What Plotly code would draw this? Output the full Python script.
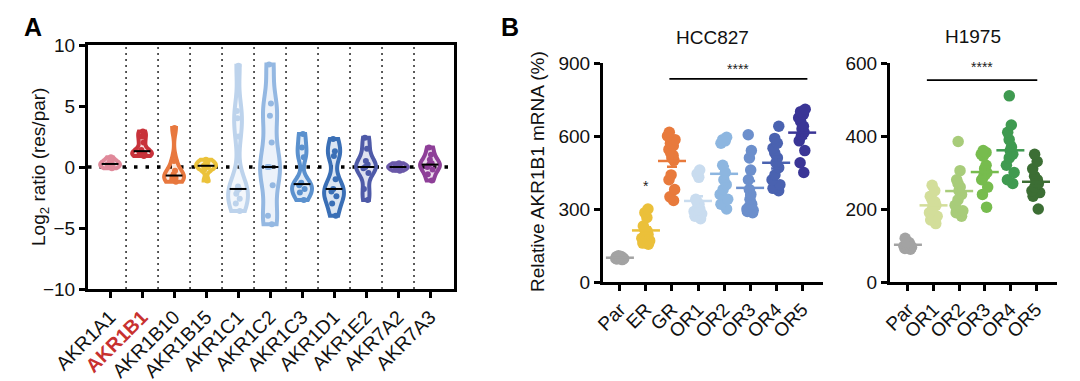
import numpy as np
import plotly.graph_objects as go

FONT = "Arial, Liberation Sans, Helvetica, sans-serif"

# ---------------- Panel A data (log2 ratio res/par) ----------------
genes = ["AKR1A1", "AKR1B1", "AKR1B10", "AKR1B15", "AKR1C1", "AKR1C2",
         "AKR1C3", "AKR1D1", "AKR1E2", "AKR7A2", "AKR7A3"]
akr1a1 = [-0.1, 0.0, 0.2, 0.3, 0.5, 0.8, 0.4, 0.1]
akr1b1 = [0.9, 1.0, 1.1, 1.2, 1.4, 2.0, 2.5, 2.9]
akr1b10 = [-1.2, -1.0, -0.9, -0.8, -0.6, -0.3, 0.5, 3.2]
akr1b15 = [-1.1, -0.2, 0.0, 0.1, 0.2, 0.4, 0.6]
akr1c1 = [-3.6, -3.0, -2.6, -2.2, -1.9, -1.8, -1.6, 2.5, 4.0, 4.6, 8.3]
akr1c2 = [-4.7, -4.0, -1.5, 0.0, 0.0, 2.0, 4.2, 5.2, 8.4]
akr1c3 = [-2.7, -2.1, -1.8, -1.5, -1.3, 0.8, 1.6, 2.7]
akr1d1 = [-4.0, -3.0, -2.4, -2.0, -1.8, -1.0, 0.9, 1.3, 2.3]
akr1e2 = [-2.7, -1.8, -0.5, -0.1, 0.0, 0.2, 0.5, 1.5, 2.4]
akr7a2 = [-0.3, -0.2, -0.1, 0.0, 0.0, 0.1, 0.2, 0.3]
akr7a3 = [-1.1, -0.6, -0.2, 0.0, 0.2, 0.3, 0.6, 1.0, 1.6]
violin_values = [akr1a1, akr1b1, akr1b10, akr1b15, akr1c1, akr1c2,
                 akr1c3, akr1d1, akr1e2, akr7a2, akr7a3]
violin_colors = ["#E0899A", "#C8323A", "#E8783E", "#EBC23A", "#BDD3EC", "#94B8E2",
                 "#5B91CE", "#3A6FB6", "#4E5AA8", "#6A58A8", "#8E3F98"]
a_yticks = [-10, -5, 0, 5, 10]

# ---------------- Panel B data (relative AKR1B1 mRNA, %) ----------------
hcc_groups = ["Par", "ER", "GR", "OR1", "OR2", "OR3", "OR4", "OR5"]
hcc_par = [95, 100, 105, 98, 102, 92, 108, 97, 100, 104, 96, 101]
hcc_er = [300, 285, 265, 230, 215, 210, 200, 195, 190, 180, 170, 160, 155]
hcc_gr = [615, 600, 585, 570, 560, 545, 530, 520, 510, 500, 440, 420, 380, 350, 335]
hcc_or1 = [460, 445, 430, 340, 330, 320, 310, 300, 295, 290, 280, 270, 260]
hcc_or2 = [595, 585, 580, 570, 480, 450, 420, 400, 380, 360, 340, 320, 300]
hcc_or3 = [605, 540, 510, 460, 420, 380, 360, 340, 320, 310, 300, 295, 290, 285]
hcc_or4 = [640, 590, 570, 550, 530, 510, 490, 470, 440, 420, 400, 385, 375]
hcc_or5 = [710, 700, 690, 675, 660, 640, 630, 615, 600, 580, 540, 490, 450]
hcc_values = [hcc_par, hcc_er, hcc_gr, hcc_or1, hcc_or2, hcc_or3, hcc_or4, hcc_or5]
hcc_colors = ["#A3A3A3", "#EBC03A", "#E87A3C", "#C9DCEF", "#8DB6E0", "#6C8FCC",
              "#4A62B0", "#3A3596"]
hcc_yticks = [0, 300, 600, 900]

h1975_groups = ["Par", "OR1", "OR2", "OR3", "OR4", "OR5"]
h_par = [120, 110, 105, 100, 98, 95, 92, 90, 102, 108]
h_or1 = [265, 250, 235, 225, 220, 215, 210, 200, 190, 180, 170, 160]
h_or2 = [385, 305, 280, 270, 260, 250, 240, 225, 210, 195, 190, 180]
h_or3 = [360, 355, 350, 345, 320, 310, 300, 290, 280, 260, 240, 205]
h_or4 = [510, 430, 410, 390, 370, 360, 350, 340, 320, 300, 280, 270]
h_or5 = [350, 330, 310, 290, 280, 275, 270, 260, 250, 245, 235, 200]
h1975_values = [h_par, h_or1, h_or2, h_or3, h_or4, h_or5]
h1975_colors = ["#A3A3A3", "#D3DE9A", "#A8CC7A", "#77BC4E", "#3F9A50", "#3C6E34"]
h1975_yticks = [0, 200, 400, 600]

# page body has an 8px default margin: size the figure to fit the window
PAGE_OFF = 8
W, H = 1080 - PAGE_OFF, 381 - PAGE_OFF


def px_x(p):
    return (p - PAGE_OFF) / W


def px_y(p):
    return 1 - (p - PAGE_OFF) / H


fig = go.Figure()

# ---------------- Panel A violins ----------------
for i, (vals, col) in enumerate(zip(violin_values, violin_colors)):
    r, g, b = int(col[1:3], 16), int(col[3:5], 16), int(col[5:7], 16)
    bw = 0.1 * (max(vals) - min(vals)) + 0.1
    fig.add_trace(go.Violin(
        x=[i] * len(vals), y=vals, xaxis="x", yaxis="y",
        line=dict(color=col, width=4), fillcolor=f"rgba({r},{g},{b},0.18)",
        points="all", pointpos=0, jitter=0.35,
        marker=dict(color=col, size=6),
        spanmode="hard", scalemode="width", width=0.62, bandwidth=bw,
        showlegend=False, hoverinfo="y"))
    med = float(np.median(vals))
    fig.add_trace(go.Scatter(
        x=[i], y=[med], xaxis="x", yaxis="y", mode="markers",
        marker=dict(symbol="line-ew", size=12, line=dict(color="black", width=2)),
        showlegend=False, hoverinfo="skip"))

# ---------------- Panel B scatters ----------------
def add_dot_group(values, colors, xa, ya):
    for i, (vals, col) in enumerate(zip(values, colors)):
        fig.add_trace(go.Box(
            x=[i] * len(vals), y=vals, xaxis=xa, yaxis=ya,
            boxpoints="all", jitter=0.75, pointpos=0, width=0.5,
            line=dict(color="rgba(0,0,0,0)"), fillcolor="rgba(0,0,0,0)",
            marker=dict(color=col, size=11.5, line=dict(width=0)),
            showlegend=False, hoverinfo="y"))
        arr = np.array(vals, dtype=float)
        mean = arr.mean()
        sem = arr.std(ddof=1) / np.sqrt(len(arr))
        fig.add_trace(go.Scatter(
            x=[i], y=[mean], xaxis=xa, yaxis=ya, mode="markers",
            marker=dict(symbol="line-ew", size=20, line=dict(color=col, width=2.5)),
            error_y=dict(type="data", array=[sem], color=col, thickness=2.5, width=5),
            showlegend=False, hoverinfo="skip"))


add_dot_group(hcc_values, hcc_colors, "x2", "y2")
add_dot_group(h1975_values, h1975_colors, "x3", "y3")

# ---------------- Axes ----------------
axis_common = dict(showgrid=False, zeroline=False, linecolor="black", linewidth=3,
                   ticks="outside", tickwidth=3, ticklen=6, tickcolor="black",
                   automargin=False,
                   tickfont=dict(family=FONT, size=19, color="#111"))

ticktext_a = [f"<b><span style='color:#C8312F'>{g}</span></b>" if g == "AKR1B1" else g
              for g in genes]

ydom_a = [px_y(289), px_y(45)]
ydom_b = [px_y(282), px_y(63)]

fig.update_layout(
    width=W, height=H, margin=dict(l=0, r=0, t=0, b=0, autoexpand=False),
    paper_bgcolor="white", plot_bgcolor="white",
    violinmode="overlay", boxmode="overlay",
    font=dict(family=FONT, color="#111"),
    xaxis=dict(axis_common, domain=[px_x(88), px_x(454)], range=[-0.69, 10.75],
               tickvals=list(range(len(genes))), ticktext=ticktext_a, tickangle=-45,
               tickfont=dict(family=FONT, size=19.5, color="#111"),
               mirror=True, anchor="y"),
    yaxis=dict(axis_common, domain=ydom_a, range=[-10, 10], tickvals=a_yticks,
               ticktext=[("−" + str(abs(v))) if v < 0 else str(v) for v in a_yticks],
               mirror=True, anchor="x"),
    xaxis2=dict(axis_common, domain=[px_x(603), px_x(823)], range=[-0.65, 7.8],
                tickvals=list(range(len(hcc_groups))), ticktext=hcc_groups, tickangle=-45,
                anchor="y2"),
    yaxis2=dict(axis_common, domain=ydom_b, range=[0, 900], tickvals=hcc_yticks,
                anchor="x2"),
    xaxis3=dict(axis_common, domain=[px_x(890), px_x(1057)], range=[-0.7, 5.82],
                tickvals=list(range(len(h1975_groups))), ticktext=h1975_groups, tickangle=-45,
                anchor="y3"),
    yaxis3=dict(axis_common, domain=ydom_b, range=[0, 600], tickvals=h1975_yticks,
                anchor="x3"),
)

# ---------------- Shapes ----------------
shapes = []
for k in range(len(genes) - 1):
    shapes.append(dict(type="line", xref="x", yref="y", x0=k + 0.5, x1=k + 0.5,
                       y0=-10, y1=10, layer="below",
                       line=dict(color="#333", width=1.6, dash="2px,4px")))
shapes.append(dict(type="line", xref="x", yref="y", x0=-0.69, x1=10.75, y0=0, y1=0,
                   layer="below", line=dict(color="black", width=3.5, dash="3.5px,8px")))
shapes.append(dict(type="line", xref="x2", yref="y2", x0=1.9, x1=7.2, y0=835, y1=835,
                   line=dict(color="black", width=1.8)))
shapes.append(dict(type="line", xref="x3", yref="y3", x0=0.74, x1=5.05, y0=553, y1=553,
                   line=dict(color="black", width=1.8)))
fig.update_layout(shapes=shapes)

# ---------------- Annotations ----------------
ann = [
    dict(text="<b>A</b>", x=px_x(33), y=px_y(27), font=dict(size=25, color="black")),
    dict(text="<b>B</b>", x=px_x(510), y=px_y(27), font=dict(size=25, color="black")),
    dict(text="Log<sub>2</sub> ratio (res/par)", x=px_x(40), y=px_y(167), textangle=-90,
         font=dict(size=19, color="#111")),
    dict(text="Relative AKR1B1 mRNA (%)", x=px_x(537), y=px_y(172), textangle=-90,
         font=dict(size=19, color="#111")),
    dict(text="HCC827", x=px_x(712), y=px_y(37), font=dict(size=19, color="#111")),
    dict(text="H1975", x=px_x(973), y=px_y(36), font=dict(size=19, color="#111")),
]
for a in ann:
    a.update(xref="paper", yref="paper", showarrow=False, xanchor="center", yanchor="middle")
sig = [
    dict(text="****", x=4.55, y=875, xref="x2", yref="y2"),
    dict(text="*", x=1, y=395, xref="x2", yref="y2"),
    dict(text="****", x=2.9, y=588, xref="x3", yref="y3"),
]
for a in sig:
    a.update(showarrow=False, xanchor="center", yanchor="middle",
             font=dict(size=14, color="#222", family=FONT))
fig.update_layout(annotations=ann + sig)

fig.write_html("out.html")
